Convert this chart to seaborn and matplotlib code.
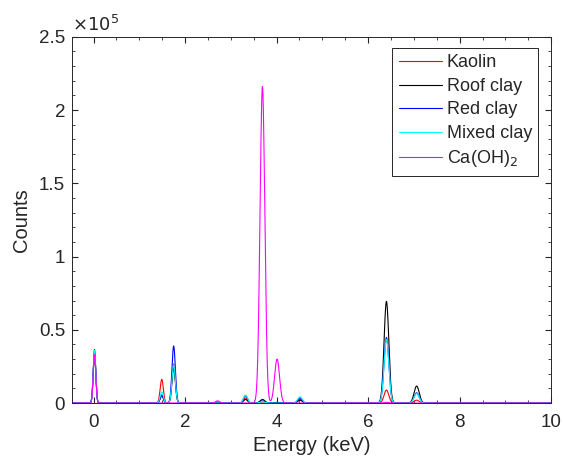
import numpy as np
import pandas as pd
import matplotlib
matplotlib.use("Agg")
import matplotlib.pyplot as plt
import seaborn as sns
from matplotlib.ticker import MultipleLocator, FuncFormatter

# Peak energies (keV) and peak heights (counts)
peak_energy = [0.02, 1.49, 1.75, 2.71, 3.32, 3.69, 4.01, 4.51, 6.40, 7.06]
peak_sigma = [0.028, 0.035, 0.037, 0.045, 0.045, 0.052, 0.054, 0.050, 0.052, 0.056]
kaolin = [36700, 16200, 26700, 800, 3500, 800, 0, 2500, 8900, 2000]
roof_clay = [34000, 5000, 24000, 0, 2500, 2500, 500, 2000, 69400, 11600]
red_clay = [35000, 5500, 39000, 0, 5000, 1500, 0, 3500, 44700, 7000]
mixed_clay = [35800, 7700, 26000, 0, 5500, 1000, 0, 4300, 43500, 6500]
caoh2 = [33000, 0, 0, 1500, 0, 216000, 30000, 0, 500, 0]

series_names = ["Kaolin", "Roof clay", "Red clay", "Mixed clay", "Ca(OH)$_2$"]
series_vals = [kaolin, roof_clay, red_clay, mixed_clay, caoh2]
colors = ["#FF0000", "#000000", "#0000FF", "#00FFFF", "#FF00FF"]

energy = np.arange(-0.47, 10.0001, 0.005)
frames = []
for name, vals in zip(series_names, series_vals):
    counts = np.zeros_like(energy)
    for e, s, a in zip(peak_energy, peak_sigma, vals):
        counts += a * np.exp(-0.5 * ((energy - e) / s) ** 2)
    frames.append(pd.DataFrame({"Energy": energy, "Counts": counts, "Sample": name}))
df = pd.concat(frames, ignore_index=True)

sns.set_style("ticks")
plt.rcParams["font.family"] = ["Liberation Sans", "DejaVu Sans"]

fig = plt.figure(figsize=(5.63, 4.66), dpi=100)
ax = fig.add_axes([0.128, 0.135, 0.851, 0.786])

sns.lineplot(data=df, x="Energy", y="Counts", hue="Sample", hue_order=series_names,
             palette=colors, linewidth=0.8, ax=ax, estimator=None, sort=False)

ax.set_xlim(-0.47, 10)
ax.set_ylim(0, 250000)
ax.xaxis.set_major_locator(MultipleLocator(2))
ax.xaxis.set_minor_locator(MultipleLocator(0.5))
ax.yaxis.set_major_locator(MultipleLocator(50000))
ax.yaxis.set_minor_locator(MultipleLocator(10000))
ax.yaxis.set_major_formatter(FuncFormatter(lambda v, p: "%g" % (v / 1e5)))
ax.xaxis.set_major_formatter(FuncFormatter(lambda v, p: "%g" % v))
ax.tick_params(which="both", direction="in", top=True, right=True, labelsize=13.5,
               color="#262626", labelcolor="#262626")
ax.tick_params(which="major", length=4)
ax.tick_params(which="minor", length=2.2)
ax.tick_params(axis="x", which="major", pad=7.5)
ax.tick_params(axis="y", which="major", pad=5)
for sp in ax.spines.values():
    sp.set_visible(True)
    sp.set_linewidth(0.7)
    sp.set_color("#262626")

ax.set_xlabel("Energy (keV)", fontsize=14.5, color="#262626", labelpad=4)
ax.set_ylabel("Counts", fontsize=14.5, color="#262626", labelpad=6)
ax.text(0.0, 1.005, r"$\times10^5$", transform=ax.transAxes, fontsize=13,
        ha="left", va="bottom", color="#262626")

leg = ax.legend(loc="upper right", bbox_to_anchor=(0.973, 0.969), fontsize=13,
                frameon=True, fancybox=False, edgecolor="#262626", framealpha=1,
                handlelength=2.4, handletextpad=0.25, borderpad=0.35, labelspacing=0.36,
                borderaxespad=0.0)
leg.get_frame().set_linewidth(0.7)
for line in leg.get_lines():
    line.set_linewidth(0.8)

fig.savefig("out.png", dpi=100)
